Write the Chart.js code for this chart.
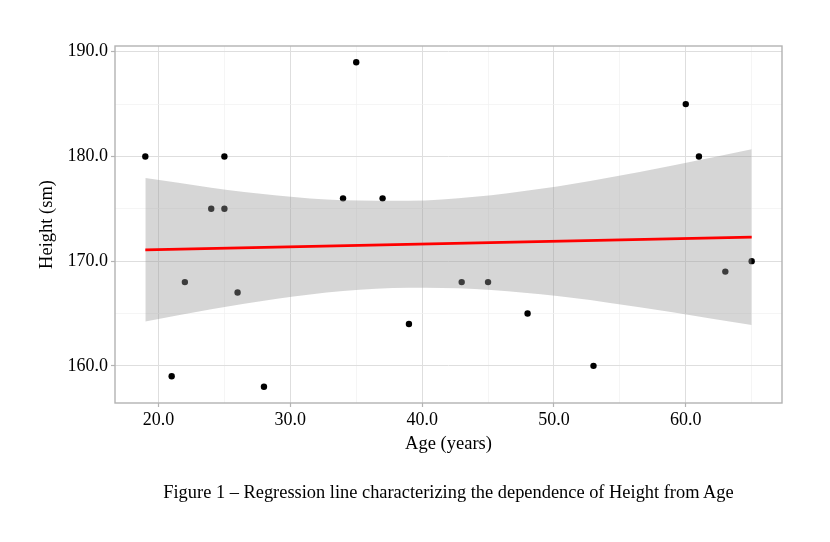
<!DOCTYPE html>
<html>
<head>
<meta charset="utf-8">
<script src="https://cdn.jsdelivr.net/npm/chart.js@4"></script>
<style>
  body { margin: 0; background: #fff; }
  #wrap { position: relative; width: 830px; height: 542px; }
  #caption {
    position: absolute; left: 0; width: 897px; top: 481px; line-height: 22px;
    text-align: center; font-family: "Liberation Serif", serif; font-size: 18.4px; color: #000;
  }
</style>
</head>
<body>
<div id="wrap">
  <canvas id="chart" width="830" height="542"></canvas>
  <div id="caption">Figure 1 – Regression line characterizing the dependence of Height from Age</div>
</div>
<script>
// observations
var ages    = [19, 21, 22, 24, 25, 25, 26, 28, 34, 35, 37, 39, 43, 45, 48, 53, 60, 61, 63, 65];
var heights = [180, 159, 168, 175, 175, 180, 167, 158, 176, 189, 176, 164, 168, 168, 165, 160, 185, 180, 169, 170];

// fitted line and 95% band
var fitX = [19, 65];
var fitY = [171.08, 172.29];
var bandX     = [19, 24, 29, 34, 39, 44, 49, 54, 59, 65];
var bandLower = [164.24, 165.41, 166.41, 167.14, 167.46, 167.34, 166.83, 166.06, 165.13, 163.89];
var bandUpper = [177.93, 177.02, 176.28, 175.82, 175.76, 176.14, 176.91, 177.95, 179.14, 180.69];

var xTicks = [20, 25, 30, 35, 40, 45, 50, 55, 60, 65];
var yTicks = [160, 165, 170, 175, 180, 185, 190];

function pairs(xs, ys) {
  var out = [];
  for (var i = 0; i < xs.length; i++) {
    out.push({x: xs[i], y: ys[i]});
  }
  return out;
}

var serif = "'Liberation Serif', 'Times New Roman', serif";

function isMajor(ctx) {
  return ctx.tick && ctx.tick.value % 10 === 0;
}

var panelBox = {
  id: 'panelBox',
  afterDatasetsDraw: function(chart) {
    var a = chart.chartArea;
    var c = chart.ctx;
    c.save();
    c.strokeStyle = '#b3b3b3';
    c.lineWidth = 1.4;
    c.strokeRect(a.left, a.top, a.right - a.left, a.bottom - a.top);
    c.restore();
  }
};

var gridOpts = {
  color: function(ctx) { return isMajor(ctx) ? '#dedede' : '#f0f0f0'; },
  lineWidth: function(ctx) { return isMajor(ctx) ? 1 : 0.7; },
  tickColor: function(ctx) { return isMajor(ctx) ? '#b3b3b3' : 'rgba(0,0,0,0)'; },
  tickLength: 4,
  tickWidth: 1.2
};

new Chart(document.getElementById('chart').getContext('2d'), {
  type: 'scatter',
  data: {
    datasets: [
      {
        data: pairs(ages, heights),
        backgroundColor: '#000',
        borderColor: '#000',
        pointRadius: 3.2,
        borderWidth: 0,
        order: 3
      },
      {
        data: pairs(bandX, bandLower),
        showLine: true,
        borderColor: 'rgba(0,0,0,0)',
        borderWidth: 0,
        pointRadius: 0,
        cubicInterpolationMode: 'monotone',
        fill: false,
        order: 2
      },
      {
        data: pairs(bandX, bandUpper),
        showLine: true,
        borderColor: 'rgba(0,0,0,0)',
        borderWidth: 0,
        pointRadius: 0,
        cubicInterpolationMode: 'monotone',
        backgroundColor: 'rgba(153,153,153,0.4)',
        fill: '-1',
        order: 2
      },
      {
        data: pairs(fitX, fitY),
        showLine: true,
        borderColor: '#ff0000',
        borderWidth: 2.6,
        pointRadius: 0,
        fill: false,
        order: 1
      }
    ]
  },
  options: {
    responsive: false,
    animation: false,
    layout: { padding: { left: 0, top: 46, right: 48, bottom: 0 } },
    plugins: {
      legend: { display: false },
      tooltip: { enabled: false }
    },
    scales: {
      x: {
        type: 'linear',
        min: 16.7,
        max: 67.3,
        afterBuildTicks: function(s) { s.ticks = xTicks.map(function(v) { return {value: v}; }); },
        afterFit: function(s) { s.height = 139; },
        grid: gridOpts,
        border: { display: false },
        ticks: {
          autoSkip: false,
          maxRotation: 0,
          padding: 2,
          color: '#000',
          font: { family: serif, size: 18 },
          callback: function(v) { return v % 10 === 0 ? v.toFixed(1) : ''; }
        },
        title: {
          display: true,
          text: 'Age (years)',
          color: '#000',
          font: { family: serif, size: 18.5 },
          padding: { top: 0, bottom: 87 }
        }
      },
      y: {
        type: 'linear',
        min: 156.45,
        max: 190.55,
        afterBuildTicks: function(s) { s.ticks = yTicks.map(function(v) { return {value: v}; }); },
        afterFit: function(s) { s.width = 115; },
        grid: gridOpts,
        border: { display: false },
        ticks: {
          autoSkip: false,
          padding: 3,
          color: '#000',
          font: { family: serif, size: 18 },
          callback: function(v) { return v % 10 === 0 ? v.toFixed(1) : ''; }
        },
        title: {
          display: true,
          text: 'Height (sm)',
          color: '#000',
          font: { family: serif, size: 18.5 },
          padding: { top: 36, bottom: 0 }
        }
      }
    }
  },
  plugins: [panelBox]
});
</script>
</body>
</html>
